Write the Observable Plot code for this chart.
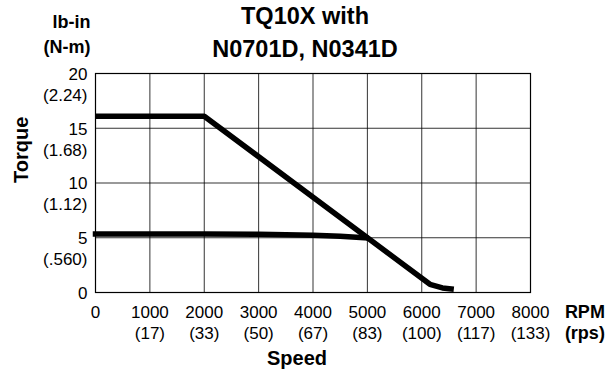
<!DOCTYPE html>
<html>
<head>
<meta charset="utf-8">
<script src="https://cdn.jsdelivr.net/npm/d3@7"></script>
<script src="https://cdn.jsdelivr.net/npm/@observablehq/plot@0.6"></script>
<style>
  html, body { margin: 0; padding: 0; background: #fff; }
</style>
</head>
<body>
<div id="chart"></div>
<script>
// ---- data ----
const titleLines = ["TQ10X with", "N0701D, N0341D"];
const xTicks = [0, 1000, 2000, 3000, 4000, 5000, 6000, 7000, 8000];
const rpsLabels = ["", "(17)", "(33)", "(50)", "(67)", "(83)", "(100)", "(117)", "(133)"];
const yTicks = [0, 5, 10, 15, 20];
const nmLabels = ["", "(.560)", "(1.12)", "(1.68)", "(2.24)"];

// curve 1 (upper)
const speedA = [0, 2000, 6150, 6380, 6590];
const torqueA = [16.1, 16.1, 0.75, 0.42, 0.3];
// curve 2 (lower)
const speedB = [0, 2000, 3000, 4000, 4500, 4970];
const torqueB = [5.35, 5.35, 5.32, 5.22, 5.13, 5.0];

const lineA = speedA.map((s, i) => ({speed: s, torque: torqueA[i]}));
const lineB = speedB.map((s, i) => ({speed: s, torque: torqueB[i]}));
const xTickData = xTicks.map((v, i) => ({v, sub: rpsLabels[i]}));
const yTickData = yTicks.map((v, i) => ({v, sub: nmLabels[i]}));

const font = "'Liberation Sans', Arial, Helvetica, sans-serif";
const T = {fill: "#000", lineAnchor: "middle"};

const plot = Plot.plot({
  width: 605,
  height: 374,
  marginLeft: 95,
  marginRight: 75,
  marginTop: 73,
  marginBottom: 82,
  style: {fontFamily: font, fontSize: "17px", background: "#fff", color: "#000"},
  x: {domain: [0, 8000], axis: null},
  y: {domain: [0, 20], axis: null},
  marks: [
    Plot.gridX(xTicks, {stroke: "#000", strokeOpacity: 0.8, strokeWidth: 1}),
    Plot.gridY(yTicks, {stroke: "#000", strokeOpacity: 0.8, strokeWidth: 1}),
    Plot.frame({stroke: "#000", strokeWidth: 1.2}),
    Plot.line(lineA, {x: "speed", y: "torque", stroke: "#000", strokeWidth: 5.5, strokeLinecap: "butt", strokeLinejoin: "miter"}),
    Plot.line(lineB, {x: "speed", y: "torque", stroke: "#000", strokeWidth: 5.5, strokeLinecap: "square", strokeLinejoin: "miter"}),
    // x tick labels
    Plot.text(xTickData, {...T, x: "v", text: d => String(d.v), frameAnchor: "bottom", dy: 20, fontSize: 17}),
    Plot.text(xTickData, {...T, x: "v", text: "sub", frameAnchor: "bottom", dy: 41, fontSize: 17}),
    Plot.text(["RPM"], {...T, x: [9000], text: d => d, frameAnchor: "bottom", dy: 20, fontSize: 18, fontWeight: "bold"}),
    Plot.text(["(rps)"], {...T, x: [9000], text: d => d, frameAnchor: "bottom", dy: 41, fontSize: 18, fontWeight: "bold"}),
    Plot.text(["Speed"], {...T, frameAnchor: "bottom", dx: -16, dy: 66, fontSize: 20, fontWeight: "bold"}),
    // y tick labels
    Plot.text(yTickData, {...T, y: "v", text: d => String(d.v), frameAnchor: "left", dx: -8, dy: 1, textAnchor: "end", fontSize: 17}),
    Plot.text(yTickData, {...T, y: "v", text: "sub", frameAnchor: "left", dx: -8, dy: 22, textAnchor: "end", fontSize: 17}),
    Plot.text(["lb-in"], {...T, frameAnchor: "top-left", dx: -5, dy: -51, textAnchor: "end", fontSize: 18, fontWeight: "bold"}),
    Plot.text(["(N-m)"], {...T, frameAnchor: "top-left", dx: -5, dy: -26, textAnchor: "end", fontSize: 18, fontWeight: "bold"}),
    Plot.text(["Torque"], {...T, frameAnchor: "left", dx: -74, rotate: -90, fontSize: 20, fontWeight: "bold"}),
    // title
    Plot.text([titleLines[0]], {...T, frameAnchor: "top", dx: -8, dy: -57, fontSize: 23.5, fontWeight: "bold"}),
    Plot.text([titleLines[1]], {...T, frameAnchor: "top", dx: -8, dy: -24, fontSize: 23.5, fontWeight: "bold"})
  ]
});
document.getElementById("chart").appendChild(plot);
</script>
</body>
</html>
